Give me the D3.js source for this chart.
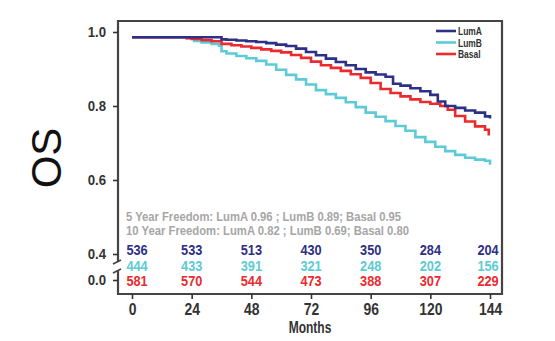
<!DOCTYPE html>
<html>
<head>
<meta charset="utf-8">
<script src="https://cdn.jsdelivr.net/npm/d3@7"></script>
<style>
  body { margin: 0; background: #fff; }
  text { font-family: "Liberation Sans", Arial, sans-serif; font-weight: bold; }
  .axis path { display: none; }
  .axis line { stroke: #333; stroke-width: 1.6; }
  .axis text { fill: #333; }
</style>
</head>
<body>
<div id="km"></div>
<script>
// survival curves (months, OS)
var lumaMonths = [0, 12, 24, 36, 38, 42, 46, 50, 54, 58, 62, 66, 70, 74, 78, 82, 86, 90, 94, 98, 102, 105, 108, 112, 116, 120, 123, 126, 130, 134, 138, 142, 144];
var lumaOS = [0.986, 0.986, 0.986, 0.98, 0.979, 0.977, 0.975, 0.973, 0.970, 0.966, 0.962, 0.955, 0.946, 0.937, 0.928, 0.919, 0.910, 0.900, 0.891, 0.885, 0.879, 0.860, 0.855, 0.848, 0.840, 0.830, 0.812, 0.800, 0.795, 0.788, 0.782, 0.772, 0.766];

var lumbMonths = [0, 12, 22, 25, 28, 32, 35, 36, 38, 42, 46, 50, 54, 58, 62, 66, 70, 74, 78, 82, 86, 90, 94, 98, 102, 106, 110, 114, 118, 122, 126, 130, 134, 138, 142, 144];
var lumbOS = [0.986, 0.986, 0.984, 0.976, 0.972, 0.968, 0.963, 0.948, 0.942, 0.935, 0.929, 0.922, 0.912, 0.898, 0.884, 0.872, 0.858, 0.843, 0.832, 0.822, 0.810, 0.797, 0.782, 0.771, 0.759, 0.746, 0.733, 0.716, 0.703, 0.690, 0.678, 0.668, 0.660, 0.655, 0.652, 0.641];

var basalMonths = [0, 12, 20, 22, 24, 28, 32, 36, 40, 44, 48, 52, 56, 60, 64, 68, 72, 76, 80, 84, 88, 92, 96, 100, 104, 108, 112, 116, 120, 124, 127, 130, 134, 138, 142, 143.5];
var basalOS = [0.986, 0.986, 0.986, 0.983, 0.981, 0.978, 0.975, 0.968, 0.964, 0.961, 0.957, 0.953, 0.949, 0.945, 0.938, 0.930, 0.920, 0.910, 0.903, 0.895, 0.886, 0.876, 0.862, 0.846, 0.835, 0.826, 0.818, 0.811, 0.806, 0.800, 0.790, 0.773, 0.758, 0.745, 0.736, 0.720];

var groups = ["LumA", "LumB", "Basal"];
var colors = ["#2e2f86", "#5ccbd6", "#ea2a2f"];

// numbers at risk
var riskMonths = [0, 24, 48, 72, 96, 120, 144];
var riskLumA = [536, 533, 513, 430, 350, 284, 204];
var riskLumB = [444, 433, 391, 321, 248, 202, 156];
var riskBasal = [581, 570, 544, 473, 388, 307, 229];

var xTicks = [0, 24, 48, 72, 96, 120, 144];
var yTicks = [0.4, 0.6, 0.8, 1.0];

var freedomLines = [
  "5 Year Freedom: LumA 0.96 ; LumB 0.89; Basal 0.95",
  "10 Year Freedom: LumA 0.82 ; LumB 0.69; Basal 0.80"
];

var width = 555, height = 341;
var frame = {left: 118, top: 21, right: 502, bottom: 294};

var svg = d3.select("#km").append("svg")
    .attr("width", width)
    .attr("height", height);

var x = d3.scaleLinear().domain([0, 144]).range([132, 490]);
var y = d3.scaleLinear().domain([0.4, 1.0]).range([254, 32]);
var yLow = d3.scaleLinear().domain([0, 0.1]).range([280, 262]);

// squeeze text horizontally to mimic the condensed face
function condense(sel, sx) {
  sel.each(function() {
    var t = d3.select(this);
    var tx = +(t.attr("x") || 0);
    t.attr("x", tx / sx).attr("transform", "scale(" + sx + ",1)");
  });
}
function condensedText(px, py, sx, str) {
  return svg.append("text")
      .attr("transform", "translate(" + px + "," + py + ") scale(" + sx + ",1)")
      .text(str);
}

// frame (left side drawn separately because of the break)
svg.append("path")
    .attr("d", "M" + frame.left + "," + frame.top + "H" + frame.right + "V" + frame.bottom + "H" + frame.left)
    .attr("fill", "none")
    .attr("stroke", "#444")
    .attr("stroke-width", 2.2);
svg.append("line")
    .attr("x1", frame.left).attr("x2", frame.left)
    .attr("y1", frame.top - 1).attr("y2", 262)
    .attr("stroke", "#444").attr("stroke-width", 2.2);
svg.append("line")
    .attr("x1", frame.left).attr("x2", frame.left)
    .attr("y1", 271).attr("y2", frame.bottom + 1)
    .attr("stroke", "#444").attr("stroke-width", 2.2);
// break marks
[262, 271].forEach(function(by) {
  svg.append("line")
      .attr("x1", frame.left - 5).attr("y1", by + 2)
      .attr("x2", frame.left + 3).attr("y2", by - 2)
      .attr("stroke", "#444").attr("stroke-width", 1.6);
});

// axes
var yAxisG = svg.append("g")
    .attr("class", "axis")
    .attr("transform", "translate(" + frame.left + ",0)")
    .call(d3.axisLeft(y).tickValues(yTicks).tickFormat(d3.format(".1f")).tickSize(5).tickPadding(7));
var yLowG = svg.append("g")
    .attr("class", "axis")
    .attr("transform", "translate(" + frame.left + ",0)")
    .call(d3.axisLeft(yLow).tickValues([0]).tickFormat(d3.format(".1f")).tickSize(5).tickPadding(7));
[yAxisG, yLowG].forEach(function(g) {
  g.selectAll("text").style("font-size", "15px").call(condense, 0.88);
});

var xAxisG = svg.append("g")
    .attr("class", "axis")
    .attr("transform", "translate(0," + frame.bottom + ")")
    .call(d3.axisBottom(x).tickValues(xTicks).tickSize(5).tickPadding(4));
xAxisG.selectAll("text").style("font-size", "17px").call(condense, 0.82);

condensedText(310, 333, 0.75, "Months")
    .attr("text-anchor", "middle")
    .style("font-size", "16px")
    .style("fill", "#333");

svg.append("text")
    .attr("transform", "translate(61,158) rotate(-90)")
    .attr("text-anchor", "middle")
    .style("font-weight", "normal")
    .style("font-size", "42px")
    .style("fill", "#111")
    .text("OS");

// curves
var line = d3.line()
    .x(function(d) { return x(d[0]); })
    .y(function(d) { return y(d[1]); })
    .curve(d3.curveStepAfter);

var curves = [
  d3.zip(lumaMonths, lumaOS),
  d3.zip(lumbMonths, lumbOS),
  d3.zip(basalMonths, basalOS)
];

// draw order: LumB, Basal, LumA on top
[1, 2, 0].forEach(function(i) {
  svg.append("path")
      .datum(curves[i])
      .attr("d", line)
      .attr("fill", "none")
      .attr("stroke", colors[i])
      .attr("stroke-width", 2.6);
});

// legend
groups.forEach(function(g, i) {
  var ly = 31 + i * 11.5;
  svg.append("line")
      .attr("x1", 436).attr("x2", 456)
      .attr("y1", ly).attr("y2", ly)
      .attr("stroke", colors[i]).attr("stroke-width", 2.6);
  condensedText(458, ly + 4, 0.77, g)
      .style("font-size", "11px")
      .style("fill", "#333");
});

// freedom annotation
var freedomWidths = [275, 283];
svg.selectAll(".freedom")
    .data(freedomLines)
    .enter().append("text")
    .attr("class", "freedom")
    .attr("x", 126)
    .attr("y", function(d, i) { return 221 + i * 14; })
    .attr("textLength", function(d, i) { return freedomWidths[i]; })
    .attr("lengthAdjust", "spacingAndGlyphs")
    .style("font-size", "13px")
    .style("fill", "#a6a6a6")
    .text(function(d) { return d; });

// numbers at risk
[riskLumA, riskLumB, riskBasal].forEach(function(row, i) {
  row.forEach(function(d, j) {
    var px = x(riskMonths[j]) + (j === 0 ? 5 : 0) + (j === 6 ? -2 : 0);
    condensedText(px, 255 + i * 15.5, 0.85, d)
        .attr("text-anchor", "middle")
        .style("font-size", "15px")
        .style("fill", colors[i]);
  });
});
</script>
</body>
</html>
